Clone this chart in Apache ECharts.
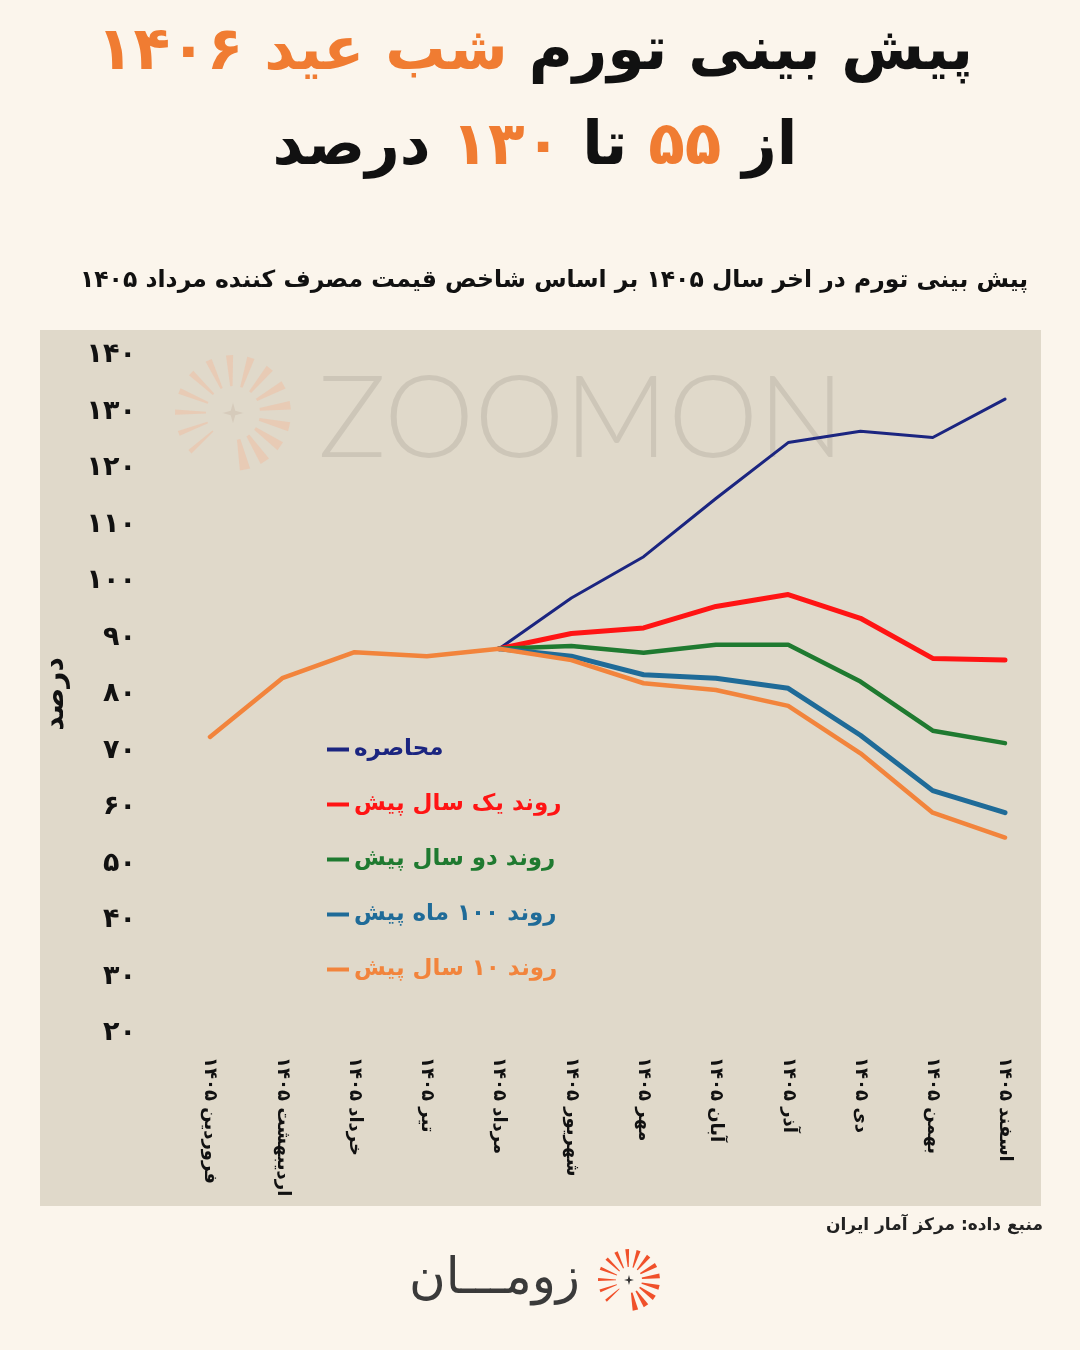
<!DOCTYPE html>
<html>
<head>
<meta charset="utf-8">
<script src="https://cdn.jsdelivr.net/npm/echarts@6/dist/echarts.min.js"></script>
<style>
html,body{margin:0;padding:0;background:#fbf5ec;}
#chart{width:1080px;height:1350px;}
</style>
</head>
<body>
<div id="chart"></div>
<script>
// ---- data ----
const months = ['فروردین ۱۴۰۵', 'اردیبهشت ۱۴۰۵', 'خرداد ۱۴۰۵', 'تیر ۱۴۰۵', 'مرداد ۱۴۰۵', 'شهریور ۱۴۰۵', 'مهر ۱۴۰۵', 'آبان ۱۴۰۵', 'آذر ۱۴۰۵', 'دی ۱۴۰۵', 'بهمن ۱۴۰۵', 'اسفند ۱۴۰۵'];
const seriesNames = ['محاصره', 'روند یک سال پیش', 'روند دو سال پیش', 'روند ۱۰۰ ماه پیش', 'روند ۱۰ سال پیش'];
const siege        = [null, null, null, null, 88, 97.0, 104.3, 114.6, 124.5, 126.5, 125.4, 132.2];
const oneYearTrend = [null, null, null, null, 88, 90.7, 91.7, 95.5, 97.6, 93.4, 86.3, 86.0];
const twoYearTrend = [null, null, null, null, 88, 88.5, 87.3, 88.7, 88.7, 82.2, 73.5, 71.3];
const hundredMonthTrend = [null, null, null, null, 88, 86.7, 83.4, 82.8, 81.0, 72.7, 62.9, 59.0];
const tenYearTrend = [72.4, 82.8, 87.4, 86.7, 88, 86.0, 81.9, 80.7, 77.9, 69.5, 59.0, 54.6];
const yMin = 20, yMax = 140, yStep = 10;

// ---- styling ----
const FF = "'DejaVu Sans', 'Noto Sans', sans-serif";
const colors = ['#1b2580', '#ff1414', '#1f7a30', '#1f6b98', '#f2843c'];
const widths = [3, 5, 4.5, 5, 4.5];
const faDigits = s => String(s).replace(/\d/g, d => '۰۱۲۳۴۵۶۷۸۹'[+d]);

function sunburst(cx, cy, rIn, rOut, a0, a1, n, color, opacity, starColor) {
  const els = [];
  for (let i = 0; i < n; i++) {
    const a = (a0 + (a1 - a0) * i / (n - 1)) * Math.PI / 180;
    const t = i / (n - 1);
    const hw = (0.09 - 0.05 * t);
    const p = [
      [cx + rIn * Math.cos(a - hw * 0.7), cy - rIn * Math.sin(a - hw * 0.7)],
      [cx + rOut * Math.cos(a - hw), cy - rOut * Math.sin(a - hw)],
      [cx + rOut * Math.cos(a + hw), cy - rOut * Math.sin(a + hw)],
      [cx + rIn * Math.cos(a + hw * 0.7), cy - rIn * Math.sin(a + hw * 0.7)]
    ];
    els.push({ type: 'polygon', silent: true, shape: { points: p }, style: { fill: color, opacity: opacity } });
  }
  const s = rIn * 0.38;
  els.push({ type: 'polygon', silent: true, shape: { points: [[cx, cy - s], [cx + s * 0.22, cy - s * 0.22], [cx + s, cy], [cx + s * 0.22, cy + s * 0.22], [cx, cy + s], [cx - s * 0.22, cy + s * 0.22], [cx - s, cy], [cx - s * 0.22, cy - s * 0.22]] }, style: { fill: starColor, opacity: opacity } });
  return els;
}

const chart = echarts.init(document.getElementById('chart'), null, { renderer: 'canvas' });

const series = [siege, oneYearTrend, twoYearTrend, hundredMonthTrend, tenYearTrend].map((d, i) => ({
  name: seriesNames[i],
  type: 'line',
  data: d,
  symbol: 'none',
  connectNulls: false,
  z: 2 + i,
  lineStyle: { color: colors[i], width: widths[i], cap: 'round', join: 'round' },
  itemStyle: { color: colors[i] }
}));

const option = {
  backgroundColor: '#fbf5ec',
  animation: false,
  title: [
    {
      text: '{o|شب عید ۱۴۰۶} {b|پیش بینی تورم}\n{b|درصد} {o|۱۳۰} {b|تا} {o|۵۵} {b|از}',
      left: 530, top: 1, textAlign: 'center',
      textStyle: {
        fontFamily: FF, fontSize: 60, fontWeight: 'bold', lineHeight: 95, color: '#111',
        rich: {
          o: { color: '#f07c32', fontFamily: FF, fontSize: 60, fontWeight: 'bold', lineHeight: 95 },
          b: { color: '#111', fontFamily: FF, fontSize: 60, fontWeight: 'bold', lineHeight: 95 }
        }
      }
    },
    {
      text: 'پیش بینی تورم در اخر سال ۱۴۰۵ بر اساس شاخص قیمت مصرف کننده مرداد ۱۴۰۵',
      left: 549, top: 264, textAlign: 'center',
      textStyle: { fontFamily: FF, fontSize: 23.5, fontWeight: 'bold', color: '#111' }
    }
  ],
  graphic: [
    { type: 'rect', z: -10, silent: true, shape: { x: 40, y: 330, width: 1001, height: 876 }, style: { fill: '#e0d9ca' } },
    { type: 'text', z: -5, silent: true, x: 318, y: 420, style: { text: 'ZOOMON', fontFamily: 'Lato', fontWeight: 300, fontSize: 114, fill: '#cdc6b8', textVerticalAlign: 'middle', textAlign: 'left' } },
    { type: 'group', z: -5, silent: true, children: sunburst(233, 413, 27, 58, -78, 222, 15, '#f4b899', 0.42, '#c9b7a8') },
    { type: 'text', silent: true, x: 1043, y: 1226, style: { text: 'منبع داده: مرکز آمار ایران', fontFamily: FF, fontSize: 17, fontWeight: 'bold', fill: '#222', textAlign: 'right', textVerticalAlign: 'middle' } },
    { type: 'text', silent: true, x: 580, y: 1280, style: { text: 'زومـــان', fontFamily: FF, fontSize: 50, fontWeight: 'normal', fill: '#3a3a3a', textAlign: 'right', textVerticalAlign: 'middle' } },
    { type: 'group', silent: true, children: sunburst(629, 1280, 13, 31, -78, 222, 15, '#f0502a', 1, '#333') }
  ],
  legend: {
    data: seriesNames.map((n, i) => ({ name: n, textStyle: { color: colors[i] } })),
    orient: 'vertical',
    left: 322, top: 733,
    icon: 'rect', itemWidth: 22, itemHeight: 4, itemGap: 32,
    textStyle: { fontFamily: FF, fontSize: 23, fontWeight: 'bold' },
    selectedMode: false
  },
  grid: { left: 210, right: 75, top: 355, bottom: 317, containLabel: false },
  xAxis: {
    type: 'category',
    data: months,
    boundaryGap: false,
    axisLine: { show: false },
    axisTick: { show: false },
    splitLine: { show: false },
    axisLabel: { rotate: -90, margin: 24, interval: 0, fontFamily: FF, fontSize: 18, fontWeight: 'bold', color: '#111' }
  },
  yAxis: {
    type: 'value',
    min: yMin, max: yMax, interval: yStep,
    name: 'درصد', nameLocation: 'middle', nameGap: 140, nameRotate: 90,
    nameTextStyle: { fontFamily: FF, fontSize: 28, fontWeight: 'bold', color: '#111' },
    axisLine: { show: false },
    axisTick: { show: false },
    splitLine: { show: false },
    axisLabel: { margin: 74, fontFamily: FF, fontSize: 27, fontWeight: 'bold', color: '#111', formatter: v => faDigits(v) }
  },
  series: series
};

chart.setOption(option);
</script>
</body>
</html>
